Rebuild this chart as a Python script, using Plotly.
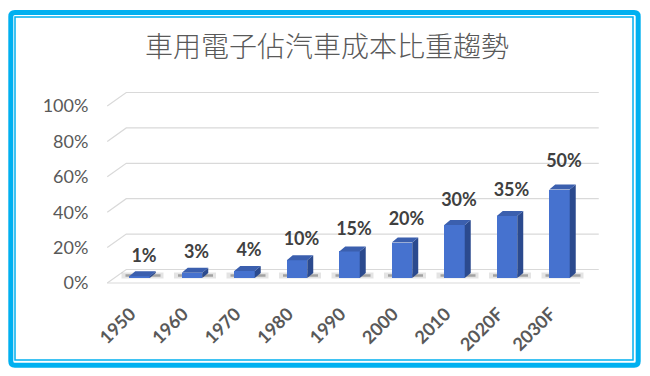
import plotly.graph_objects as go

# ---------------- data ----------------
categories = ["1950", "1960", "1970", "1980", "1990", "2000", "2010", "2020F", "2030F"]
share_pct = [1, 3, 4, 10, 15, 20, 30, 35, 50]
y_ticks = [0, 20, 40, 60, 80, 100]
y_tick_labels = ["0%", "20%", "40%", "60%", "80%", "100%"]
title_text = "車用電子佔汽車成本比重趨勢"

# ---------------- layout geometry (styles) ----------------
W, H = 650, 376
PX_CAT = 52.5          # pixels per category slot
PX_PCT = 1.77          # pixels per percentage point
FIRST_PX = 139.5       # pixel column of the first category
L, RIGHT_PX = 100, 605 # plot area left / right pixel
R = W - RIGHT_PX
T = 80
B = 84
PLOT_W = RIGHT_PX - L
PLOT_H = H - T - B
BASE_PX = 278          # pixel row of the bar base
XMIN = (L - FIRST_PX) / PX_CAT
XMAX = (RIGHT_PX - FIRST_PX) / PX_CAT
YMAX = (BASE_PX - T) / PX_PCT
YMIN = -(H - B - BASE_PX) / PX_PCT


def dx(px):
    return px / PX_CAT


def dy(px):
    # px measured downward on screen
    return -px / PX_PCT


FRONT = (-6, 5)        # front plane offset (px)
BACK = (13, -8.5)      # back wall offset (px)
BAR_W = 0.39
DEPTH = (6, -5)        # bar depth offset (px)

GRID_COLOR = "#d9d9d9"
TEXT_GRAY = "#595959"
LABEL_GRAY = "#404040"
FRONT_BLUE = "#4672cf"
TOP_BLUE = "#3b5fae"
SIDE_BLUE = "#2b4a8e"
FRAME = "#00b0f0"

idx = list(range(len(categories)))
x_lo, x_hi = -0.5, len(categories) - 0.5

fig = go.Figure()
shapes = []

# ---------- perspective gridlines (side wall + back wall), below traces ----------
for v in y_ticks:
    pts = [(x_lo + dx(FRONT[0]), v + dy(FRONT[1])),
           (x_lo + dx(BACK[0]), v + dy(BACK[1])),
           (x_hi + dx(BACK[0]), v + dy(BACK[1]))]
    path = "M " + " L ".join(f"{a:.5f},{b:.5f}" for a, b in pts)
    shapes.append(dict(type="path", xref="x", yref="y", path=path,
                       line=dict(color=GRID_COLOR, width=1.2), layer="below"))
# floor front edge
shapes.append(dict(type="line", xref="x", yref="y",
                   x0=x_lo + dx(FRONT[0]), x1=x_hi + dx(-5.75),
                   y0=y_ticks[0] + dy(FRONT[1]), y1=y_ticks[0] + dy(FRONT[1]),
                   line=dict(color=GRID_COLOR, width=1.2), layer="below"))

# ---------- soft shadows at bar bases ----------
for i in idx:
    shapes.append(dict(type="line", xref="x", yref="y",
                       x0=i + dx(-18), x1=i + dx(24), y0=dy(-2.5), y1=dy(-2.5),
                       line=dict(color="rgba(90,90,90,0.16)", width=6), layer="below"))
    shapes.append(dict(type="line", xref="x", yref="y",
                       x0=i + dx(-14), x1=i + dx(21), y0=dy(-2.5), y1=dy(-2.5),
                       line=dict(color="rgba(40,40,40,0.35)", width=2.5), layer="below"))

# ---------- bar front faces ----------
fig.add_trace(go.Bar(x=idx, y=share_pct, width=BAR_W,
                     marker=dict(color=FRONT_BLUE, line=dict(width=0)),
                     hoverinfo="skip", showlegend=False))

# ---------- bar side faces ----------
px_, py_ = [], []
for i, v in zip(idx, share_pct):
    xr = i + BAR_W / 2
    px_ += [xr, xr, xr + dx(DEPTH[0]), xr + dx(DEPTH[0]), xr, None]
    py_ += [0, v, v + dy(DEPTH[1]), dy(DEPTH[1]), 0, None]
fig.add_trace(go.Scatter(x=px_, y=py_, mode="lines", fill="toself",
                         fillcolor=SIDE_BLUE, line=dict(width=0, color=SIDE_BLUE),
                         hoverinfo="skip", showlegend=False))

# ---------- bar top faces ----------
tx, ty = [], []
for i, v in zip(idx, share_pct):
    xl, xr = i - BAR_W / 2, i + BAR_W / 2
    tx += [xl, xr, xr + dx(DEPTH[0]), xl + dx(DEPTH[0]), xl, None]
    ty += [v, v, v + dy(DEPTH[1]), v + dy(DEPTH[1]), v, None]
fig.add_trace(go.Scatter(x=tx, y=ty, mode="lines", fill="toself",
                         fillcolor=TOP_BLUE, line=dict(width=0, color=TOP_BLUE),
                         hoverinfo="skip", showlegend=False))

# ---------- value labels ----------
LABEL_BASE_PX = 18.6
LABEL_SCALE = 1.93 / PX_PCT
fig.add_trace(go.Scatter(
    x=[i + dx(4.5) for i in idx],
    y=[LABEL_BASE_PX / PX_PCT + v * LABEL_SCALE for v in share_pct],
    mode="text", text=[f"{v}%" for v in share_pct],
    textposition="middle center",
    textfont=dict(family="Lato", size=18, color=LABEL_GRAY, weight="bold"),
    hoverinfo="skip", showlegend=False))

# ---------- helper trace for the y tick axis ----------
fig.add_trace(go.Scatter(x=[0], y=[0], yaxis="y2", mode="markers",
                         marker=dict(opacity=0), hoverinfo="skip",
                         showlegend=False))

# ---------- frame ----------
def ppx(px):
    return (px - L) / PLOT_W


def ppy(py):
    return (H - B - py) / PLOT_H


def rounded_path(x0, y0, x1, y1, r):
    pts = [
        ("M", x0 + r, y0), ("L", x1 - r, y0), ("Q", x1, y0, x1, y0 + r),
        ("L", x1, y1 - r), ("Q", x1, y1, x1 - r, y1), ("L", x0 + r, y1),
        ("Q", x0, y1, x0, y1 - r), ("L", x0, y0 + r), ("Q", x0, y0, x0 + r, y0),
    ]
    s = ""
    for p in pts:
        coords = p[1:]
        parts = [f"{ppx(coords[k]):.5f},{ppy(coords[k + 1]):.5f}"
                 for k in range(0, len(coords), 2)]
        s += p[0] + " " + " ".join(parts) + " "
    return s + "Z"


shapes += [
    dict(type="path", xref="paper", yref="paper",
         path=rounded_path(10.8, 12.5, 638.2, 365.3, 4),
         line=dict(color=FRAME, width=5), fillcolor="rgba(0,0,0,0)", layer="above"),
    dict(type="rect", xref="paper", yref="paper",
         x0=ppx(15), x1=ppx(633), y0=ppy(17), y1=ppy(360),
         line=dict(color=FRAME, width=1.5), fillcolor="rgba(0,0,0,0)", layer="above"),
]

fig.update_layout(
    width=W, height=H,
    margin=dict(l=L, r=R, t=T, b=B, pad=0, autoexpand=False),
    paper_bgcolor="white", plot_bgcolor="white",
    showlegend=False,
    shapes=shapes,
    title=dict(text=title_text, x=327 / W, xanchor="center", xref="container",
               y=1 - 47 / H, yanchor="middle", yref="container",
               font=dict(family="Noto Sans CJK TC", size=28, color=TEXT_GRAY,
                         weight=300)),
    xaxis=dict(range=[XMIN, XMAX], tickvals=idx, ticktext=categories,
               tickangle=-45, ticks="", showgrid=False, zeroline=False,
               showline=False, automargin=False,
               ticklabelstandoff=7, ticklabelshift=-9,
               tickfont=dict(family="Lato", size=18, color=TEXT_GRAY, weight="bold")),
    yaxis=dict(range=[YMIN, YMAX], showticklabels=False, showgrid=False,
               zeroline=False, showline=False, ticks="", automargin=False),
    yaxis2=dict(range=[YMIN - dy(FRONT[1]), YMAX - dy(FRONT[1])],
                overlaying="y", side="left", anchor="x",
                tickvals=y_ticks, ticktext=y_tick_labels,
                ticks="outside", ticklen=7, tickcolor="rgba(0,0,0,0)",
                showgrid=False, zeroline=False, showline=False, automargin=False,
                tickfont=dict(family="Lato", size=18, color=TEXT_GRAY)),
    bargap=0,
)

fig.write_html("out.html", config={"displayModeBar": False},
               post_script="document.body.style.margin='0px';document.body.style.overflow='hidden';")
